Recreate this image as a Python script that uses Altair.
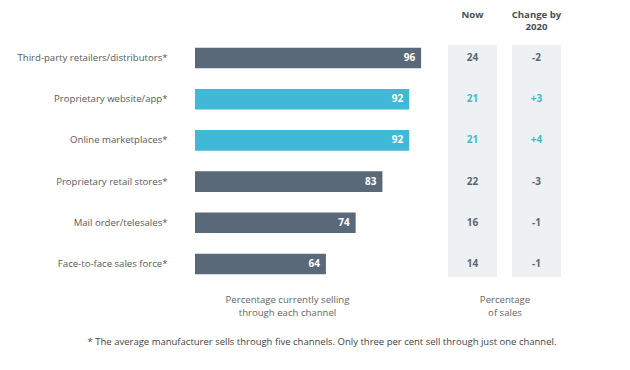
import altair as alt
import pandas as pd

FONT = "Open Sans"

channels = [
    "Third-party retailers/distributors*",
    "Proprietary website/app*",
    "Online marketplaces*",
    "Proprietary retail stores*",
    "Mail order/telesales*",
    "Face-to-face sales force*",
]
selling = [96, 92, 92, 83, 74, 64]
now_share = [24, 21, 21, 22, 16, 14]
change_2020 = ["-2", "+3", "+4", "-3", "-1", "-1"]
group = ["base", "online", "online", "base", "base", "base"]
columns = ["Now", "Change"]
headers = ["Now", "Change by\n2020"]

DARK = "#5a6979"
CYAN = "#42b8d9"

bars_df = pd.DataFrame({"channel": channels, "selling": selling, "group": group})
cols_df = pd.DataFrame({
    "channel": channels * 2,
    "column": ["Now"] * 6 + ["Change"] * 6,
    "label": [str(v) for v in now_share] + change_2020,
    "group": group * 2,
})
hdr_df = pd.DataFrame({"column": columns, "header": headers})

y_enc = alt.Y(
    "channel:N", sort=channels,
    scale=alt.Scale(paddingInner=0.5, paddingOuter=0.065),
    axis=alt.Axis(title=None, ticks=False, domain=False, labelPadding=28,
                  labelFontSize=9.6, labelColor="#5a5a5a", labelFont=FONT),
)

x_bar = alt.X(
    "selling:Q",
    scale=alt.Scale(domain=[20, 100], range=[0, 238], zero=False),
    axis=alt.Axis(orient="bottom", labels=False, ticks=False, domain=False, grid=False,
                  title=["Percentage currently selling", "through each channel"],
                  titleFont=FONT, titleFontSize=9.6, titleFontWeight="normal",
                  titleColor="#666666", titlePadding=17, titleLineHeight=13, titleX=92),
)

bars = alt.Chart(bars_df).mark_bar().encode(
    x=x_bar, x2=alt.datum(20), y=y_enc,
    color=alt.Color("group:N", scale=alt.Scale(domain=["base", "online"], range=[DARK, CYAN]), legend=None),
)
bar_text = alt.Chart(bars_df).mark_text(
    align="right", dx=-6, color="white", fontWeight="bold", fontSize=10, font=FONT
).encode(x="selling:Q", y=alt.Y("channel:N", sort=channels), text="selling:Q")

x_col = alt.X(
    "column:N",
    scale=alt.Scale(domain=columns, range=[253, 366], paddingInner=0.234, paddingOuter=0),
    axis=alt.Axis(orient="bottom", labels=False, ticks=False, domain=False, grid=False,
                  title=["Percentage", "of sales"],
                  titleFont=FONT, titleFontSize=9.6, titleFontWeight="normal",
                  titleColor="#666666", titlePadding=17, titleLineHeight=13),
)

bands = alt.Chart(hdr_df).mark_rect(color="#eef1f4").encode(x=x_col)
col_text = alt.Chart(cols_df).mark_text(fontWeight="bold", fontSize=10, font=FONT).encode(
    x="column:N", y=alt.Y("channel:N", sort=channels), text="label:N",
    color=alt.Color("group:N", scale=alt.Scale(domain=["base", "online"], range=["#5b6670", "#3dbcc8"]), legend=None),
)
hdr_text = alt.Chart(hdr_df).mark_text(
    baseline="top", lineBreak="\n", fontWeight="bold", fontSize=9.6, font=FONT,
    color="#4a4f55", lineHeight=12,
).encode(x="column:N", y=alt.value(-35), text="header:N")

left = alt.layer(bars, bar_text)
right = alt.layer(bands, col_text, hdr_text)

chart = alt.layer(left, right).resolve_scale(x="independent", color="independent").properties(
    width=366, height=232,
    padding={"left": 9, "top": 2, "right": 5, "bottom": 5},
    title=alt.TitleParams(
        "* The average manufacturer sells through five channels. Only three per cent sell through just one channel.",
        orient="bottom", anchor="middle", frame="group", dx=-56, offset=20,
        font=FONT, fontSize=9.5, fontWeight="normal", color="#444444",
    ),
).configure_view(stroke=None)

chart.save("out.html", embed_options={"renderer": "svg", "actions": False})
